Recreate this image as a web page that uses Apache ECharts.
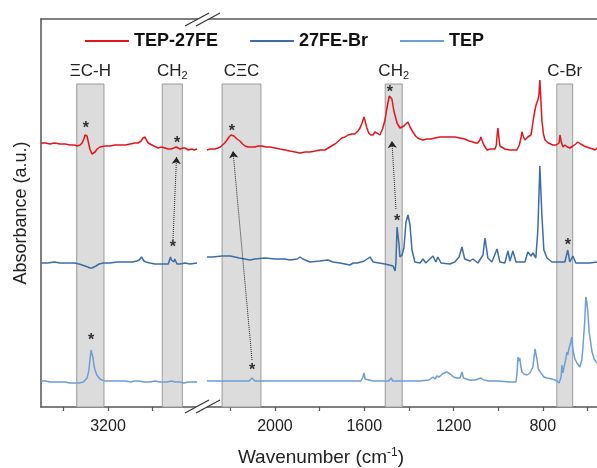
<!DOCTYPE html>
<html>
<head>
<meta charset="utf-8">
<script src="https://cdn.jsdelivr.net/npm/echarts@6/dist/echarts.min.js"></script>
<style>
  html, body { margin: 0; padding: 0; background: #fff; }
  #chart { width: 597px; height: 468px; }
</style>
</head>
<body>
<div id="chart"></div>
<script>
// spectra as [wavenumber (cm-1), absorbance (a.u., stacked offset included)]
// _hi = left panel (3500-2800), _lo = right panel (2300-560)
var tep27fe_hi = [[3500,2.64],[3480,2.64],[3460,2.63],[3440,2.64],[3415,2.63],[3392,2.63],[3370,2.62],[3350,2.62],[3339,2.61],[3325,2.62],[3316,2.64],[3308,2.68],[3303,2.72],[3299,2.73],[3294,2.71],[3288,2.65],[3281,2.58],[3272,2.53],[3265,2.53],[3258,2.55],[3249,2.58],[3236,2.60],[3213,2.61],[3191,2.61],[3168,2.62],[3146,2.62],[3120,2.62],[3101,2.63],[3080,2.64],[3066,2.64],[3052,2.66],[3043,2.69],[3034,2.70],[3028,2.67],[3020,2.64],[3012,2.62],[2995,2.61],[2975,2.59],[2960,2.60],[2945,2.59],[2930,2.58],[2918,2.58],[2905,2.59],[2895,2.60],[2888,2.58],[2877,2.58],[2865,2.59],[2855,2.59],[2840,2.57],[2825,2.58],[2813,2.57],[2801,2.58]];
var tep27fe_lo = [[2305,2.57],[2290,2.58],[2269,2.58],[2255,2.59],[2245,2.60],[2237,2.61],[2225,2.64],[2215,2.67],[2206,2.70],[2197,2.72],[2193,2.72],[2184,2.71],[2170,2.68],[2157,2.66],[2145,2.63],[2134,2.61],[2120,2.60],[2112,2.59],[2100,2.60],[2090,2.60],[2075,2.61],[2058,2.61],[2040,2.60],[2022,2.60],[2000,2.59],[1978,2.58],[1955,2.57],[1933,2.56],[1910,2.55],[1888,2.54],[1865,2.55],[1843,2.55],[1820,2.56],[1798,2.57],[1776,2.57],[1754,2.60],[1731,2.63],[1715,2.66],[1700,2.69],[1686,2.70],[1673,2.72],[1655,2.73],[1642,2.73],[1628,2.76],[1619,2.79],[1610,2.84],[1601,2.90],[1594,2.84],[1588,2.79],[1580,2.74],[1570,2.72],[1561,2.72],[1552,2.75],[1543,2.74],[1530,2.72],[1518,2.78],[1507,2.87],[1499,2.98],[1494,3.04],[1488,3.11],[1485,3.13],[1480,3.10],[1476,3.08],[1467,2.96],[1462,2.94],[1453,2.84],[1440,2.79],[1431,2.80],[1422,2.81],[1413,2.83],[1404,2.85],[1395,2.80],[1382,2.75],[1370,2.71],[1360,2.69],[1350,2.68],[1337,2.67],[1320,2.68],[1300,2.68],[1283,2.69],[1261,2.70],[1240,2.70],[1216,2.70],[1194,2.70],[1171,2.69],[1150,2.68],[1130,2.66],[1113,2.65],[1100,2.64],[1091,2.64],[1082,2.67],[1077,2.70],[1071,2.66],[1064,2.62],[1050,2.57],[1035,2.58],[1014,2.58],[1008,2.62],[1003,2.76],[1001,2.79],[997,2.70],[992,2.61],[988,2.59],[970,2.58],[947,2.57],[930,2.57],[916,2.57],[905,2.62],[897,2.70],[893,2.75],[888,2.71],[880,2.67],[874,2.68],[867,2.70],[860,2.68],[853,2.72],[849,2.77],[842,2.88],[835,2.97],[830,3.02],[826,3.04],[822,3.07],[817,3.12],[813,3.27],[809,3.10],[804,2.87],[797,2.73],[790,2.67],[775,2.64],[755,2.62],[740,2.62],[732,2.61],[727,2.64],[723,2.72],[718,2.66],[710,2.60],[700,2.62],[690,2.60],[679,2.59],[665,2.61],[652,2.63],[643,2.65],[630,2.63],[615,2.61],[603,2.60],[590,2.59],[575,2.58],[566,2.57],[557,2.59]];

var fe27br_hi = [[3500,1.44],[3470,1.44],[3440,1.45],[3415,1.44],[3380,1.44],[3350,1.44],[3330,1.43],[3316,1.42],[3303,1.41],[3290,1.40],[3281,1.39],[3272,1.39],[3263,1.40],[3254,1.41],[3240,1.43],[3220,1.44],[3191,1.44],[3160,1.45],[3120,1.45],[3090,1.45],[3070,1.46],[3060,1.47],[3055,1.49],[3050,1.50],[3048,1.52],[3044,1.49],[3039,1.46],[3030,1.45],[3012,1.44],[2990,1.43],[2967,1.43],[2945,1.43],[2930,1.43],[2924,1.45],[2920,1.50],[2916,1.47],[2911,1.45],[2905,1.45],[2901,1.48],[2897,1.46],[2891,1.43],[2877,1.43],[2855,1.44],[2833,1.43],[2801,1.44]];
var fe27br_lo = [[2305,1.50],[2280,1.50],[2237,1.51],[2200,1.51],[2160,1.49],[2112,1.47],[2090,1.48],[2045,1.49],[2000,1.48],[1955,1.48],[1933,1.47],[1900,1.48],[1888,1.50],[1875,1.48],[1843,1.45],[1800,1.46],[1763,1.47],[1740,1.45],[1709,1.44],[1664,1.42],[1650,1.44],[1642,1.45],[1630,1.44],[1615,1.45],[1600,1.46],[1592,1.48],[1574,1.50],[1560,1.45],[1507,1.43],[1471,1.41],[1462,1.36],[1458,1.44],[1453,1.80],[1444,1.62],[1440,1.50],[1431,1.52],[1422,1.59],[1413,1.85],[1404,1.92],[1395,1.82],[1386,1.57],[1373,1.45],[1350,1.44],[1337,1.48],[1324,1.44],[1292,1.51],[1279,1.45],[1270,1.50],[1256,1.44],[1216,1.43],[1194,1.45],[1175,1.50],[1162,1.60],[1150,1.48],[1126,1.46],[1113,1.48],[1091,1.44],[1068,1.52],[1059,1.69],[1046,1.49],[1028,1.45],[1005,1.58],[992,1.45],[970,1.44],[956,1.56],[947,1.46],[934,1.56],[920,1.45],[880,1.45],[867,1.55],[853,1.51],[844,1.54],[831,1.49],[822,1.77],[813,2.41],[804,1.92],[795,1.57],[781,1.49],[759,1.45],[723,1.45],[701,1.45],[688,1.57],[679,1.45],[665,1.51],[652,1.44],[589,1.44],[557,1.45]];

var tep_hi = [[3500,0.26],[3480,0.26],[3460,0.25],[3440,0.25],[3415,0.25],[3392,0.25],[3370,0.24],[3350,0.24],[3330,0.24],[3310,0.25],[3303,0.26],[3294,0.29],[3288,0.34],[3285,0.38],[3281,0.47],[3276,0.57],[3274,0.59],[3272,0.57],[3267,0.49],[3263,0.42],[3258,0.37],[3250,0.32],[3245,0.30],[3236,0.28],[3227,0.27],[3213,0.26],[3180,0.26],[3146,0.26],[3120,0.26],[3100,0.25],[3080,0.26],[3060,0.26],[3040,0.25],[3012,0.25],[2990,0.26],[2967,0.25],[2950,0.25],[2935,0.25],[2915,0.26],[2900,0.25],[2880,0.25],[2860,0.24],[2840,0.25],[2820,0.25],[2801,0.25]];
var tep_lo = [[2305,0.26],[2270,0.26],[2237,0.26],[2200,0.26],[2150,0.26],[2115,0.26],[2108,0.27],[2103,0.29],[2098,0.27],[2090,0.26],[2050,0.26],[2000,0.26],[1950,0.26],[1900,0.26],[1850,0.26],[1800,0.26],[1750,0.26],[1700,0.26],[1650,0.26],[1615,0.26],[1606,0.30],[1601,0.34],[1596,0.28],[1588,0.27],[1560,0.26],[1530,0.26],[1490,0.26],[1480,0.29],[1472,0.26],[1440,0.26],[1400,0.26],[1350,0.26],[1310,0.27],[1292,0.30],[1283,0.28],[1274,0.31],[1265,0.30],[1250,0.33],[1230,0.35],[1215,0.33],[1200,0.30],[1185,0.29],[1171,0.29],[1162,0.35],[1155,0.29],[1130,0.27],[1104,0.27],[1077,0.29],[1065,0.27],[1040,0.26],[1000,0.26],[950,0.25],[920,0.25],[915,0.35],[911,0.50],[907,0.46],[903,0.49],[898,0.40],[893,0.35],[884,0.33],[871,0.32],[858,0.34],[844,0.40],[835,0.58],[831,0.60],[826,0.48],[820,0.38],[808,0.34],[795,0.30],[781,0.29],[760,0.28],[746,0.27],[737,0.26],[727,0.24],[723,0.24],[718,0.30],[714,0.42],[710,0.34],[705,0.36],[697,0.48],[692,0.55],[688,0.52],[683,0.58],[674,0.65],[670,0.70],[665,0.57],[656,0.48],[647,0.44],[634,0.40],[625,0.47],[620,0.60],[612,0.85],[607,1.10],[602,1.04],[598,0.95],[592,0.75],[580,0.56],[570,0.48],[557,0.44]];

// peak markers (*) and dotted arrows [from, to]
var stars_hi = [[3299,2.82],[2891,2.67],[2909,1.63],[3276,0.70]];
var stars_lo = [[2193,2.79],[1485,3.18],[1453,1.89],[688,1.65],[2103,0.40]];
var arrows_hi = [[[2909,1.67],[2893,2.50]]];
var arrows_lo = [[[2103,0.47],[2188,2.56]], [[1458,1.98],[1476,2.66]]];

// shaded assignment bands [label, from, to]
var bands_hi = [['ΞC-H', 3340, 3218], ['CH2', 2957, 2867]];
var bands_lo = [['CΞC', 2237, 2063], ['CH2', 1506, 1430], ['C-Br', 737, 666]];
var band_top = 3.23;

var ticks_hi = [3400, 3200, 3000];
var labels_hi = [3200];
var ticks_lo = [2200, 2000, 1800, 1600, 1400, 1200, 1000, 800, 600];
var labels_lo = [2000, 1600, 1200, 800];

var range_hi = [2779, 3500];
var range_lo = [557, 2327];
var y_range = [0, 3.88];

var FONT = 'Liberation Sans, Arial, sans-serif';
var AXIS = '#555';
var colors = { 'TEP-27FE': '#e3141c', '27FE-Br': '#3b6ea5', 'TEP': '#6c9fd6' };

function spectrum(name, data, idx) {
  return {
    name: name, type: 'line', xAxisIndex: idx, yAxisIndex: idx, data: data,
    symbol: 'none', z: 3, silent: true,
    lineStyle: { color: colors[name], width: 1.5 },
    itemStyle: { color: colors[name] }
  };
}

function bandSeries(bands, idx) {
  return {
    type: 'line', xAxisIndex: idx, yAxisIndex: idx, data: [], z: 1, silent: true,
    markArea: {
      silent: true,
      itemStyle: { color: '#dcdcdc', borderColor: '#9a9a9a', borderWidth: 1 },
      label: {
        position: 'top', distance: 2,
        formatter: function (p) {
          return p.name === 'CH2' ? '{a|CH}{s|2}' : '{a|' + p.name + '}';
        },
        rich: {
          a: { fontSize: 17, lineHeight: 20, color: '#222', fontFamily: FONT },
          s: { fontSize: 11, lineHeight: 10, verticalAlign: 'bottom', color: '#222', fontFamily: FONT }
        }
      },
      data: bands.map(function (b) {
        return [{ name: b[0], xAxis: b[1], yAxis: band_top }, { xAxis: b[2], yAxis: 0 }];
      })
    }
  };
}

function markSeries(stars, arrows, idx) {
  return {
    type: 'scatter', xAxisIndex: idx, yAxisIndex: idx, data: stars, z: 4, silent: true,
    symbolSize: 1, itemStyle: { color: 'rgba(0,0,0,0)' },
    label: { show: true, position: 'inside', formatter: '*', fontSize: 16, fontWeight: 'bold', color: '#000', fontFamily: FONT, offset: [0, 4] },
    markLine: {
      silent: true, symbol: ['none', 'arrow'], symbolSize: 7,
      label: { show: false },
      lineStyle: { type: 'dotted', color: '#222', width: 1 },
      data: arrows.map(function (a) { return [{ coord: a[0] }, { coord: a[1] }]; })
    }
  };
}

function bottomAxis(idx, range, ticks, labels) {
  return {
    type: 'value', gridIndex: idx, inverse: true, min: range[0], max: range[1], position: 'bottom',
    axisLine: { show: true, onZero: false, lineStyle: { color: AXIS, width: 1.5 } },
    axisTick: { show: true, length: 4, customValues: ticks, lineStyle: { color: AXIS, width: 1.2 } },
    axisLabel: {
      show: true, customValues: labels, margin: 12, fontSize: 16, color: '#222', fontFamily: FONT,
      formatter: function (v) { return String(v); }
    },
    splitLine: { show: false }
  };
}

function topAxis(idx, range) {
  return {
    type: 'value', gridIndex: idx, inverse: true, min: range[0], max: range[1], position: 'top',
    axisLine: { show: true, onZero: false, lineStyle: { color: AXIS, width: 1.5 } },
    axisTick: { show: false }, axisLabel: { show: false }, splitLine: { show: false }
  };
}

// break symbol "//" on top and bottom axis lines
var graphic = [];
[19, 406].forEach(function (y) {
  var cx = 202;
  graphic.push({ type: 'polygon', z: 100, silent: true,
    shape: { points: [[cx - 17, y + 7], [cx + 7, y - 6], [cx + 18, y - 6], [cx - 6, y + 7]] },
    style: { fill: '#fff' } });
  graphic.push({ type: 'line', z: 101, silent: true,
    shape: { x1: cx - 17, y1: y + 7, x2: cx + 7, y2: y - 6 }, style: { stroke: '#333', lineWidth: 1.2 } });
  graphic.push({ type: 'line', z: 101, silent: true,
    shape: { x1: cx - 6, y1: y + 7, x2: cx + 18, y2: y - 6 }, style: { stroke: '#333', lineWidth: 1.2 } });
});
graphic.push({
  type: 'text', x: 321, y: 458, z: 100, silent: true,
  style: {
    text: '{a|Wavenumber (cm}{s|-1}{a|)}',
    textAlign: 'center', textVerticalAlign: 'middle',
    rich: {
      a: { fontSize: 19, lineHeight: 22, fill: '#222', fontFamily: FONT },
      s: { fontSize: 12, lineHeight: 12, verticalAlign: 'top', fill: '#222', fontFamily: FONT }
    }
  }
});

var chart = echarts.init(document.getElementById('chart'), null, { renderer: 'canvas' });
chart.setOption({
  animation: false,
  backgroundColor: '#fff',
  legend: {
    data: ['TEP-27FE', '27FE-Br', 'TEP'],
    left: 85, top: 32, padding: 0,
    icon: 'rect', itemWidth: 44, itemHeight: 2, itemGap: 32,
    selectedMode: false,
    textStyle: { fontSize: 18, fontWeight: 'bold', color: '#111', fontFamily: FONT }
  },
  grid: [
    { left: 41, top: 19, width: 161, height: 388, outerBoundsMode: 'none' },
    { left: 202, top: 19, right: 0, height: 388, outerBoundsMode: 'none' }
  ],
  xAxis: [
    bottomAxis(0, range_hi, ticks_hi, labels_hi),
    bottomAxis(1, range_lo, ticks_lo, labels_lo),
    topAxis(0, range_hi),
    topAxis(1, range_lo)
  ],
  yAxis: [
    {
      type: 'value', gridIndex: 0, min: y_range[0], max: y_range[1],
      axisLine: { show: true, onZero: false, lineStyle: { color: AXIS, width: 1.5 } },
      axisTick: { show: false }, axisLabel: { show: false }, splitLine: { show: false },
      name: 'Absorbance (a.u.)', nameLocation: 'middle', nameGap: 11,
      nameTextStyle: { fontSize: 18, color: '#222', fontFamily: FONT }
    },
    { type: 'value', gridIndex: 1, min: y_range[0], max: y_range[1], show: false }
  ],
  graphic: graphic,
  series: [
    bandSeries(bands_hi, 0),
    bandSeries(bands_lo, 1),
    spectrum('TEP-27FE', tep27fe_hi, 0),
    spectrum('TEP-27FE', tep27fe_lo, 1),
    spectrum('27FE-Br', fe27br_hi, 0),
    spectrum('27FE-Br', fe27br_lo, 1),
    spectrum('TEP', tep_hi, 0),
    spectrum('TEP', tep_lo, 1),
    markSeries(stars_hi, arrows_hi, 0),
    markSeries(stars_lo, arrows_lo, 1)
  ]
});
</script>
</body>
</html>
